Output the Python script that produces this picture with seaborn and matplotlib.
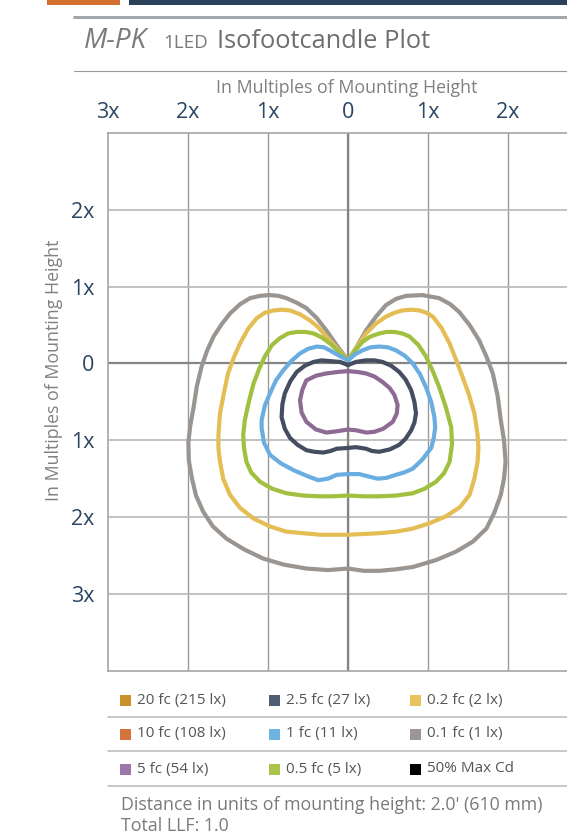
import numpy as np
import pandas as pd
import matplotlib
matplotlib.use("Agg")
import matplotlib.pyplot as plt
from matplotlib.patches import Rectangle
from matplotlib.lines import Line2D
import seaborn as sns

# isofootcandle contours (multiples of mounting height)
gray_x = [0, 0.1, 0.225, 0.35, 0.475, 0.6, 0.725, 0.93, 1.14, 1.28, 1.39, 1.52, 1.64, 1.73, 1.81, 1.87, 1.91, 1.95,
          1.97, 1.95, 1.91, 1.83, 1.73, 1.56, 1.35, 1.1, 0.81, 0.6, 0.39, 0.2, 0, -0.25, -0.52, -0.8, -1.06, -1.3,
          -1.52, -1.69, -1.81, -1.9, -1.95, -1.99, -1.995, -1.97, -1.93, -1.89, -1.83, -1.76, -1.68, -1.58, -1.475,
          -1.35, -1.225, -1.1, -0.975, -0.87, -0.77, -0.64, -0.52, -0.39, -0.27, -0.13, 0]
gray_y = [0.04, 0.2, 0.43, 0.61, 0.76, 0.84, 0.88, 0.89, 0.85, 0.77, 0.67, 0.5, 0.3, 0.09, -0.13, -0.42, -0.74, -1.0,
          -1.28, -1.5, -1.71, -1.94, -2.15, -2.32, -2.45, -2.56, -2.65, -2.68, -2.7, -2.7, -2.67, -2.69, -2.67, -2.62,
          -2.54, -2.42, -2.28, -2.12, -1.93, -1.72, -1.5, -1.26, -1.02, -0.8, -0.57, -0.3, -0.04, 0.17, 0.35, 0.51,
          0.65, 0.77, 0.85, 0.88, 0.89, 0.88, 0.85, 0.79, 0.72, 0.59, 0.43, 0.22, 0.04]

yellow_x = [0, 0.1, 0.225, 0.35, 0.475, 0.58, 0.68, 0.79, 0.89, 0.98, 1.06, 1.17, 1.27, 1.35, 1.43, 1.51, 1.58, 1.62,
            1.63, 1.62, 1.58, 1.52, 1.4, 1.225, 1.02, 0.81, 0.6, 0.39, 0.2, 0, -0.35, -0.56, -0.77, -0.98, -1.18,
            -1.35, -1.475, -1.56, -1.6, -1.62, -1.62, -1.6, -1.55, -1.5, -1.43, -1.35, -1.25, -1.14, -1.04, -0.93,
            -0.83, -0.725, -0.6, -0.475, -0.37, -0.27, -0.13, 0]
yellow_y = [0.04, 0.2, 0.39, 0.52, 0.61, 0.66, 0.69, 0.7, 0.69, 0.66, 0.61, 0.46, 0.26, 0.05, -0.17, -0.4, -0.65,
            -0.93, -1.1, -1.28, -1.5, -1.71, -1.87, -1.99, -2.08, -2.15, -2.19, -2.21, -2.22, -2.23, -2.23, -2.21,
            -2.19, -2.12, -2.02, -1.88, -1.71, -1.5, -1.28, -1.1, -0.93, -0.65, -0.38, -0.13, 0.07, 0.26, 0.45, 0.59,
            0.66, 0.69, 0.7, 0.69, 0.64, 0.56, 0.47, 0.35, 0.19, 0.04]

green_x = [0, 0.09, 0.18, 0.28, 0.39, 0.48, 0.58, 0.68, 0.77, 0.88, 0.975, 1.06, 1.14, 1.22, 1.29, 1.3, 1.27, 1.2,
           1.1, 0.96, 0.81, 0.6, 0.39, 0.2, 0, -0.2, -0.35, -0.56, -0.77, -0.95, -1.1, -1.21, -1.27, -1.3, -1.31,
           -1.29, -1.24, -1.18, -1.11, -1.04, -0.95, -0.85, -0.75, -0.64, -0.53, -0.43, -0.33, -0.225, -0.11, 0]
green_y = [0.04, 0.17, 0.28, 0.35, 0.39, 0.41, 0.41, 0.39, 0.35, 0.24, 0.09, -0.1, -0.31, -0.56, -0.83, -1.05, -1.28,
           -1.43, -1.54, -1.63, -1.69, -1.72, -1.73, -1.73, -1.72, -1.73, -1.73, -1.72, -1.69, -1.63, -1.54, -1.42,
           -1.28, -1.1, -0.93, -0.74, -0.5, -0.26, -0.07, 0.09, 0.24, 0.33, 0.39, 0.41, 0.41, 0.39, 0.34, 0.26, 0.15,
           0.04]

blue_x = [0, 0.09, 0.18, 0.28, 0.39, 0.5, 0.6, 0.71, 0.81, 0.9, 0.975, 1.04, 1.08, 1.09, 1.07, 1.04, 0.93, 0.81, 0.7,
          0.6, 0.48, 0.37, 0.25, 0.14, 0, -0.14, -0.25, -0.37, -0.5, -0.68, -0.84, -0.975, -1.05, -1.08, -1.08,
          -1.04, -0.975, -0.9, -0.81, -0.7, -0.6, -0.5, -0.39, -0.3, -0.225, -0.11, 0]
blue_y = [0.04, 0.12, 0.17, 0.21, 0.22, 0.21, 0.17, 0.1, 0.0, -0.14, -0.31, -0.5, -0.7, -0.84, -0.98, -1.1, -1.25,
          -1.37, -1.42, -1.45, -1.49, -1.5, -1.47, -1.44, -1.44, -1.45, -1.5, -1.52, -1.47, -1.39, -1.3, -1.19, -1.03,
          -0.84, -0.74, -0.55, -0.39, -0.22, -0.09, 0.04, 0.13, 0.19, 0.22, 0.21, 0.17, 0.1, 0.04]

slate_x = [0, 0.1, 0.225, 0.33, 0.43, 0.54, 0.64, 0.72, 0.79, 0.83, 0.85, 0.83, 0.79, 0.72, 0.64, 0.52, 0.39, 0.3,
           0.225, 0.1, 0, -0.14, -0.22, -0.31, -0.42, -0.52, -0.63, -0.725, -0.79, -0.83, -0.82, -0.79, -0.72, -0.64,
           -0.54, -0.43, -0.33, -0.225, -0.1, 0]
slate_y = [-0.02, 0.02, 0.04, 0.04, 0.02, -0.03, -0.11, -0.21, -0.35, -0.5, -0.65, -0.77, -0.87, -0.98, -1.06, -1.12,
           -1.15, -1.14, -1.11, -1.09, -1.1, -1.11, -1.14, -1.16, -1.15, -1.13, -1.06, -0.97, -0.85, -0.7, -0.53,
           -0.39, -0.23, -0.11, -0.03, 0.02, 0.04, 0.03, 0.02, -0.02]

purple_x = [0, 0.11, 0.225, 0.33, 0.43, 0.52, 0.58, 0.62, 0.61, 0.56, 0.44, 0.33, 0.23, 0.1, 0, -0.12, -0.27, -0.4,
            -0.52, -0.58, -0.6, -0.57, -0.52, -0.4, -0.27, -0.12, 0]
purple_y = [-0.1, -0.11, -0.13, -0.17, -0.24, -0.32, -0.41, -0.54, -0.65, -0.76, -0.85, -0.89, -0.9, -0.87, -0.86,
            -0.88, -0.9, -0.86, -0.76, -0.64, -0.48, -0.34, -0.22, -0.16, -0.13, -0.11, -0.1]

contours = [
    ("0.1 fc", gray_x, gray_y),
    ("0.2 fc", yellow_x, yellow_y),
    ("0.5 fc", green_x, green_y),
    ("1 fc", blue_x, blue_y),
    ("2.5 fc", slate_x, slate_y),
    ("5 fc", purple_x, purple_y),
]
line_colors = {"0.1 fc": "#9a9591", "0.2 fc": "#e5bd55", "0.5 fc": "#a2c03f",
               "1 fc": "#6aade0", "2.5 fc": "#454d60", "5 fc": "#8e6a95"}

# axis ticks
x_ticks = [-3, -2, -1, 0, 1, 2]
x_labels = ["3x", "2x", "1x", "0", "1x", "2x"]
y_ticks = [-4, -3, -2, -1, 0, 1, 2, 3]
y_labels = ["", "3x", "2x", "1x", "0", "1x", "2x", ""]

# legend
legend_labels = ["20 fc (215 lx)", "10 fc (108 lx)", "5 fc (54 lx)",
                 "2.5 fc (27 lx)", "1 fc (11 lx)", "0.5 fc (5 lx)",
                 "0.2 fc (2 lx)", "0.1 fc (1 lx)", "50% Max Cd"]
legend_colors = ["#c8912b", "#d4743a", "#9b78a8",
                 "#4f5e75", "#6fb3e3", "#a9c44a",
                 "#e8c55c", "#9c9794", "#000000"]

W, H = 567, 840
FONT = "Open Sans"


def fx(px):
    return px / W


def fy(py):
    return 1 - py / H


def main():
    sns.set_style("white")
    plt.rcParams["font.family"] = [FONT, "DejaVu Sans"]

    fig = plt.figure(figsize=(W / 100, H / 100), dpi=100)

    # top decoration bars
    fig.add_artist(Rectangle((fx(47), fy(5)), fx(120) - fx(47), 5 / H, color="#d4702f", lw=0))
    fig.add_artist(Rectangle((fx(129), fy(5)), 1 - fx(129), 5 / H, color="#2a4159", lw=0))
    fig.add_artist(Line2D([fx(73.5), 1], [fy(16.5), fy(16.5)], color="#a3a7ae", lw=2.2))
    fig.add_artist(Line2D([fx(73.5), 1], [fy(70.5), fy(70.5)], color="#9a9a9a", lw=0.8))

    # title
    fig.text(fx(84), fy(48), "M-PK", fontsize=20, style="italic", color="#7a7a7a", va="baseline")
    fig.text(fx(163), fy(48), "1LED", fontsize=13.5, color="#7a7a7a", va="baseline")
    fig.text(fx(217), fy(48), "Isofootcandle Plot", fontsize=18.3, color="#6e6e6e", va="baseline")

    ax = fig.add_axes([fx(108), fy(670.7), 1 - fx(108), fy(133) - fy(670.7)])

    rows = []
    for name, xs, ys in contours:
        for x, y in zip(xs, ys):
            rows.append({"x": x, "y": y, "level": name})
    df = pd.DataFrame(rows)

    sns.lineplot(data=df, x="x", y="y", hue="level", palette=line_colors, sort=False,
                 estimator=None, linewidth=3, legend=False, ax=ax, zorder=5,
                 solid_joinstyle="round", solid_capstyle="round")

    ax.set_xlim(-3, (W - 348) / 80)
    ax.set_ylim(-4, 3)
    ax.set_xticks(x_ticks)
    ax.set_xticklabels(x_labels)
    ax.set_yticks(y_ticks)
    ax.set_yticklabels(y_labels)
    ax.xaxis.tick_top()
    ax.tick_params(axis="both", length=0, labelsize=15.5, labelcolor="#2c4560")
    ax.tick_params(axis="x", pad=7)
    ax.tick_params(axis="y", pad=10)
    ax.set_xlabel("")
    ax.set_ylabel("")

    ax.grid(False)
    for t in x_ticks[1:]:
        ax.axvline(t, color="#9c9996", lw=1, zorder=1)
    for t in y_ticks[1:-1]:
        ax.axhline(t, color="#b8b8b8", lw=1.2, zorder=1)
    ax.axvline(0, color="#858585", lw=1.6, zorder=2)
    ax.axhline(0, color="#858585", lw=1.6, zorder=2)

    for side in ["left", "top", "bottom"]:
        ax.spines[side].set_visible(True)
        ax.spines[side].set_color("#a5a5a5")
        ax.spines[side].set_linewidth(1.2)
    ax.spines["right"].set_visible(False)

    # axis titles
    fig.text(fx(347), fy(88), "In Multiples of Mounting Height", fontsize=12.8, color="#808080",
             ha="center", va="center")
    fig.text(fx(54), fy(370), "In Multiples of Mounting Height", fontsize=12.8, color="#808080",
             ha="center", va="center", rotation=90)

    # legend grid
    col_sq = [120, 269, 410]
    row_y = [700.7, 734, 769]
    for i, (lab, col) in enumerate(zip(legend_labels, legend_colors)):
        c, r = i // 3, i % 3
        fig.add_artist(Rectangle((fx(col_sq[c]), fy(row_y[r] + 5.5)), 11 / W, 11 / H, color=col, lw=0))
        fig.text(fx(col_sq[c] + 17), fy(row_y[r]), lab, fontsize=11, color="#555555", va="center")
    for y in [716.7, 751, 785.7]:
        fig.add_artist(Line2D([fx(108), 1], [fy(y), fy(y)], color="#bdbdbd", lw=1.2))

    fig.text(fx(121), fy(805), "Distance in units of mounting height: 2.0' (610 mm)", fontsize=12.8,
             color="#7a7a7a", va="center")
    fig.text(fx(121), fy(826), "Total LLF: 1.0", fontsize=12.8, color="#7a7a7a", va="center")

    fig.savefig("out.png", dpi=100)
    plt.close(fig)


if __name__ == "__main__":
    main()
